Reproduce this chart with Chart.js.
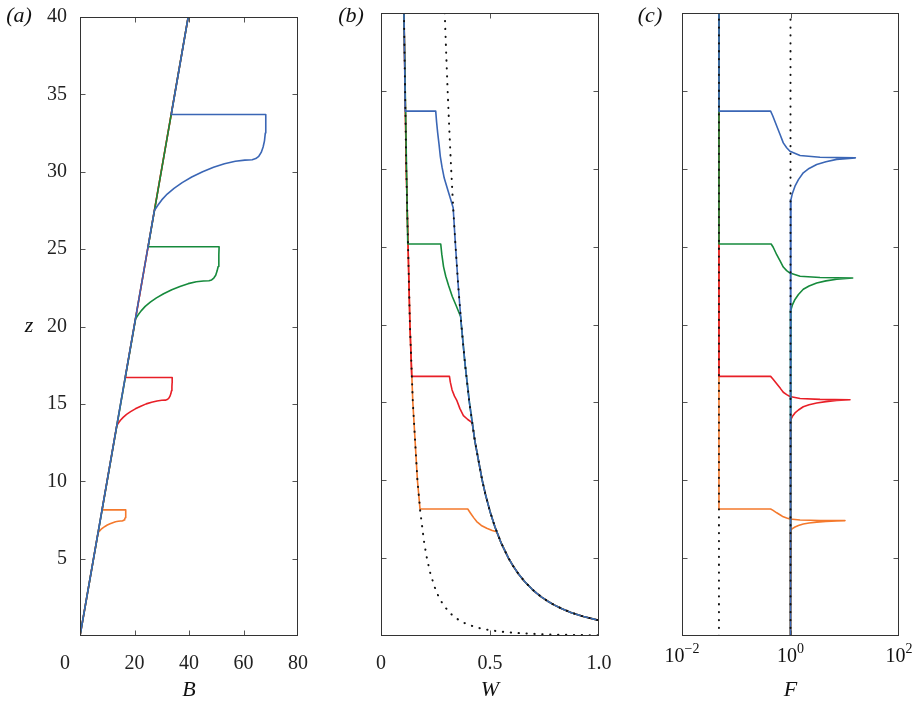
<!DOCTYPE html>
<html>
<head>
<meta charset="utf-8">
<script src="https://cdn.jsdelivr.net/npm/chart.js@4.4.1/dist/chart.umd.min.js"></script>
<style>
  html, body { margin: 0; padding: 0; background: #fff; }
  #figura { position: relative; width: 918px; height: 701px; overflow: hidden; }
  #figura canvas { position: absolute; top: 0; }
</style>
</head>
<body>
<div id="figura">
  <canvas id="panel-a" width="320" height="701" style="left:0px"></canvas>
  <canvas id="panel-b" width="300" height="701" style="left:320px"></canvas>
  <canvas id="panel-c" width="298" height="701" style="left:620px"></canvas>
</div>
<script>
// tick values
const Z_TICKS = [0, 5, 10, 15, 20, 25, 30, 35, 40];
const B_TICKS = [0, 20, 40, 60, 80];
const W_TICKS = [0, 0.5, 1];
const F_TICKS = [0.01, 1, 100];

// colours of the four runs
const AZUL = "#3a66b5", VERDE = "#168a3c", ROJO = "#e81f27", NARANJA = "#f4792c";

// (a) B against z
const aAzulB = [0, 27.3, 28.5, 30, 32, 34.5, 37.5, 41, 45, 49, 53, 57, 60.5, 63.2, 64.5, 65.6, 66.5, 67.2, 67.7, 68.0, 68.15, 68.2, 33.5, 39.7];
const aAzulZ = [0, 27.5, 27.82, 28.18, 28.56, 28.93, 29.3, 29.66, 30.0, 30.29, 30.52, 30.68, 30.75, 30.78, 30.85, 31.0, 31.25, 31.6, 32.0, 32.5, 33.0, 33.7, 33.7, 40];
const aVerdeB = [0, 20.4, 21.3, 22.43, 23.93, 25.8, 28.05, 30.68, 33.68, 36.68, 39.68, 42.68, 45.3, 47.33, 48.3, 49.1, 49.8, 50.3, 50.7, 50.9, 51.0, 51.05, 25.0, 39.7];
const aVerdeZ = [0, 20.5, 20.74, 21.01, 21.3, 21.57, 21.85, 22.12, 22.38, 22.59, 22.77, 22.89, 22.94, 22.96, 23.01, 23.13, 23.31, 23.58, 23.88, 24.25, 24.63, 25.15, 25.15, 40];
const aRojoB = [0, 13.5, 14.1, 14.84, 15.83, 17.08, 18.57, 20.31, 22.3, 24.29, 26.28, 28.26, 30.0, 31.34, 31.99, 32.54, 32.98, 33.33, 33.58, 33.73, 33.8, 33.83, 16.6, 39.7];
const aRojoZ = [0, 13.6, 13.76, 13.94, 14.13, 14.32, 14.5, 14.68, 14.85, 15.0, 15.11, 15.19, 15.23, 15.24, 15.28, 15.35, 15.48, 15.65, 15.85, 16.1, 16.35, 16.7, 16.7, 40];
const aNaranjaB = [0, 6.6, 6.9, 7.28, 7.78, 8.4, 9.15, 10.03, 11.03, 12.03, 13.03, 14.03, 14.9, 15.58, 15.9, 16.18, 16.4, 16.58, 16.7, 16.78, 16.81, 16.83, 8.1, 39.7];
const aNaranjaZ = [0, 6.65, 6.73, 6.81, 6.9, 6.99, 7.08, 7.17, 7.25, 7.32, 7.38, 7.41, 7.43, 7.44, 7.46, 7.5, 7.56, 7.64, 7.74, 7.86, 7.98, 8.15, 8.15, 40];

// (b) W against z
const bAzulW = [0.1053, 0.1114, 0.251, 0.255, 0.26, 0.266, 0.272, 0.28, 0.29, 0.303, 0.318, 0.331, 0.342, 0.3542, 0.3684, 0.3852, 0.4055, 0.4309, 0.4642, 0.4807, 0.5, 0.5228, 0.5503, 0.5848, 0.6057, 0.63, 0.6586, 0.6934, 0.7137, 0.7368, 0.7631, 0.7937, 0.8298, 0.8736, 0.9283, 1];
const bAzulZ = [40, 33.7, 33.7, 33.0, 32.3, 31.6, 30.8, 30.1, 29.4, 28.8, 28.1, 27.5, 25, 22.5, 20, 17.5, 15, 12.5, 10, 9, 8, 7, 6, 5, 4.5, 4, 3.5, 3, 2.75, 2.5, 2.25, 2, 1.75, 1.5, 1.25, 1];
const bVerdeW = [0.1053, 0.1228, 0.274, 0.279, 0.287, 0.297, 0.31, 0.327, 0.345, 0.358, 0.3655, 0.3684, 0.3852, 0.4055, 0.4309, 0.4642, 0.4807, 0.5, 0.5228, 0.5503, 0.5848, 0.6057, 0.63, 0.6586, 0.6934, 0.7137, 0.7368, 0.7631, 0.7937, 0.8298, 0.8736, 0.9283, 1];
const bVerdeZ = [40, 25.17, 25.17, 24.5, 23.7, 23.1, 22.5, 21.8, 21.2, 20.75, 20.5, 20, 17.5, 15, 12.5, 10, 9, 8, 7, 6, 5, 4.5, 4, 3.5, 3, 2.75, 2.5, 2.25, 2, 1.75, 1.5, 1.25, 1];
const bRojoW = [0.1053, 0.1159, 0.1326, 0.1409, 0.314, 0.318, 0.326, 0.337, 0.347, 0.362, 0.378, 0.398, 0.418, 0.4309, 0.4642, 0.4807, 0.5, 0.5228, 0.5503, 0.5848, 0.6057, 0.63, 0.6586, 0.6934, 0.7137, 0.7368, 0.7631, 0.7937, 0.8298, 0.8736, 0.9283, 1];
const bRojoZ = [40, 30, 20, 16.67, 16.67, 16.3, 15.8, 15.4, 15.15, 14.6, 14.15, 13.9, 13.7, 12.5, 10, 9, 8, 7, 6, 5, 4.5, 4, 3.5, 3, 2.75, 2.5, 2.25, 2, 1.75, 1.5, 1.25, 1];
const bNaranjaW = [0.1053, 0.1159, 0.1326, 0.146, 0.1671, 0.179, 0.398, 0.41, 0.425, 0.439, 0.46, 0.485, 0.51, 0.5303, 0.5503, 0.5848, 0.6057, 0.63, 0.6586, 0.6934, 0.7137, 0.7368, 0.7631, 0.7937, 0.8298, 0.8736, 0.9283, 1];
const bNaranjaZ = [40, 30, 20, 15, 10, 8.15, 8.15, 7.9, 7.6, 7.35, 7.1, 6.92, 6.78, 6.7, 6, 5, 4.5, 4, 3.5, 3, 2.75, 2.5, 2.25, 2, 1.75, 1.5, 1.25, 1];
// dotted reference curves in (b)
const bRefAltaW = [0.2924, 0.2988, 0.3057, 0.3134, 0.3218, 0.3311, 0.342, 0.3542, 0.3684, 0.3852, 0.4055, 0.4309, 0.4642, 0.4807, 0.5, 0.5228, 0.5503, 0.5848, 0.6057, 0.63, 0.6586, 0.6934, 0.7137, 0.7368, 0.7631, 0.7937, 0.8298, 0.8736, 0.9283, 1];
const bRefAltaZ = [40, 37.5, 35, 32.5, 30, 27.5, 25, 22.5, 20, 17.5, 15, 12.5, 10, 9, 8, 7, 6, 5, 4.5, 4, 3.5, 3, 2.75, 2.5, 2.25, 2, 1.75, 1.5, 1.25, 1];
const bRefBajaW = [0.1053, 0.1159, 0.1326, 0.146, 0.1671, 0.18, 0.1981, 0.2105, 0.2268, 0.2496, 0.2653, 0.2857, 0.3145, 0.3342, 0.36, 0.3878, 0.4268, 0.4536, 0.4886, 0.5377, 0.5715, 0.6156, 0.6775, 0.7756, 0.8536, 0.9196, 1];
const bRefBajaZ = [40, 30, 20, 15, 10, 8, 6, 5, 4, 3, 2.5, 2, 1.5, 1.25, 1, 0.8, 0.6, 0.5, 0.4, 0.3, 0.25, 0.2, 0.15, 0.1, 0.075, 0.06, 0.0467];

// (c) F against z
const cAzulF = [0.048, 0.048, 0.43, 0.47, 0.557, 0.65, 0.736, 0.85, 0.978, 1.5, 3.5, 15.7, 7.1, 4.5, 3.04, 2.2, 1.72, 1.4, 1.21, 1.08, 1.02, 1.0, 1.0];
const cAzulZ = [40, 33.7, 33.7, 33.4, 32.74, 32.15, 31.66, 31.35, 31.12, 30.85, 30.74, 30.7, 30.6, 30.45, 30.27, 30.02, 29.74, 29.3, 28.88, 28.4, 28.02, 27.55, 0];
const cVerdeF = [0.048, 0.048, 0.44, 0.48, 0.557, 0.65, 0.736, 0.85, 0.978, 1.5, 3.5, 14, 7.1, 4.5, 3.04, 2.2, 1.72, 1.4, 1.21, 1.08, 1.02, 1.0, 1.0];
const cVerdeZ = [40, 25.17, 25.17, 24.96, 24.48, 24.05, 23.69, 23.46, 23.3, 23.1, 23.02, 22.99, 22.91, 22.8, 22.66, 22.47, 22.26, 21.93, 21.61, 21.24, 20.95, 20.6, 0];
const cRojoF = [0.048, 0.048, 0.43, 0.47, 0.557, 0.65, 0.736, 0.85, 0.978, 1.5, 3.5, 12.5, 7.1, 4.5, 3.04, 2.2, 1.72, 1.4, 1.21, 1.08, 1.02, 1.0, 1.0];
const cRojoZ = [40, 16.67, 16.67, 16.52, 16.19, 15.9, 15.65, 15.5, 15.38, 15.25, 15.19, 15.17, 15.12, 15.05, 14.96, 14.85, 14.72, 14.51, 14.32, 14.09, 13.91, 13.7, 0];
const cNaranjaF = [0.048, 0.048, 0.43, 0.47, 0.557, 0.65, 0.736, 0.85, 0.978, 1.5, 3.5, 10.1, 7.1, 4.5, 3.04, 2.2, 1.72, 1.4, 1.21, 1.08, 1.02, 1.0, 1.0];
const cNaranjaZ = [40, 8.15, 8.15, 8.08, 7.91, 7.77, 7.65, 7.57, 7.51, 7.45, 7.42, 7.41, 7.39, 7.35, 7.31, 7.26, 7.19, 7.09, 7.0, 6.89, 6.81, 6.7, 0];
// dotted verticals in (c)
const cRefIzqF = [0.048, 0.048];
const cRefDerF = [1, 1];
const cRefZ = [0, 40];

const SERIF = "'Liberation Serif', 'Times New Roman', serif";

// one line from two arrays
const serie = (xs, ys, color, extra = {}) => ({
    data: xs.map((x, i) => ({ x, y: ys[i] })),
    borderColor: color, backgroundColor: color,
    borderWidth: 1.6, pointRadius: 0, showLine: true, tension: 0, fill: false,
    borderJoinStyle: "round",
    ...extra,
});
const punteada = (xs, ys) => serie(xs, ys, "#111", { borderWidth: 2, borderDash: [0.3, 7.6], borderCapStyle: "round" });

// frame, inward ticks and the free texts
const decoracion = {
    id: "decoracion",
    afterDraw(chart, args, opts) {
        const { ctx, chartArea: a, scales } = chart;
        const L = Math.round(a.left) + 0.5, R = Math.round(a.right) - 0.5;
        const T = Math.round(a.top) + 0.5, B = Math.round(a.bottom) - 0.5;
        ctx.save();
        ctx.strokeStyle = "#555";
        ctx.lineWidth = 1;
        ctx.beginPath();
        scales.x.ticks.forEach(t => {
            const px = Math.round(scales.x.getPixelForValue(t.value)) + 0.5;
            if (px < L + 2 || px > R - 2) return;
            ctx.moveTo(px, B); ctx.lineTo(px, B - 5);
            ctx.moveTo(px, T); ctx.lineTo(px, T + 5);
        });
        scales.y.ticks.forEach(t => {
            const py = Math.round(scales.y.getPixelForValue(t.value)) + 0.5;
            if (py < T + 2 || py > B - 2) return;
            ctx.moveTo(L, py); ctx.lineTo(L + 5, py);
            ctx.moveTo(R, py); ctx.lineTo(R - 5, py);
        });
        ctx.stroke();
        ctx.strokeStyle = "#333";
        ctx.strokeRect(L, T, R - L, B - T);

        ctx.fillStyle = "#111";
        ctx.textBaseline = "middle";
        ctx.textAlign = "center";
        ctx.font = `italic 22px ${SERIF}`;
        ctx.fillText(opts.panel, opts.panelX, 16);
        ctx.fillText(opts.titulo, (a.left + a.right) / 2, 690);
        if (opts.z) ctx.fillText("z", 29, (a.top + a.bottom) / 2);

        // 10^n labels of the log axis
        if (opts.log) {
            F_TICKS.forEach(v => {
                const px = scales.x.getPixelForValue(v);
                const exp = String(Math.round(Math.log10(v))).replace("-", "\u2212");
                ctx.font = `20px ${SERIF}`;
                const wBase = ctx.measureText("10").width;
                ctx.font = `14px ${SERIF}`;
                const wExp = ctx.measureText(exp).width;
                const x0 = px - (wBase + wExp) / 2;
                ctx.textAlign = "left";
                ctx.font = `20px ${SERIF}`;
                ctx.fillText("10", x0, 657);
                ctx.font = `14px ${SERIF}`;
                ctx.fillText(exp, x0 + wBase, 649);
            });
        }
        ctx.restore();
    },
};

const ejeZ = (conEtiquetas, ancho) => ({
    type: "linear", min: 0, max: 40,
    afterBuildTicks: s => { s.ticks = Z_TICKS.map(v => ({ value: v })); },
    afterFit: s => { s.width = ancho; },
    grid: { display: false }, border: { display: false },
    ticks: {
        display: conEtiquetas, padding: 5, color: "#222",
        font: { family: SERIF, size: 20 },
        callback: v => (v === 0 ? "" : String(v)),
    },
});

const ejeX = (extra, etiqueta) => ({
    ...extra,
    afterFit: s => { s.height = 65; },
    grid: { display: false }, border: { display: false },
    ticks: {
        padding: 8, color: "#222", autoSkip: false, maxRotation: 0, minRotation: 0,
        font: { family: SERIF, size: 20 },
        callback: etiqueta,
    },
});

const crearPanel = (id, datasets, x, y, padding, deco) => new Chart(document.getElementById(id), {
    type: "scatter",
    data: { datasets },
    options: {
        responsive: false, animation: false, events: [],
        layout: { padding },
        plugins: { legend: { display: false }, tooltip: { enabled: false }, decoracion: deco },
        scales: { x, y },
    },
    plugins: [decoracion],
});

// panel (a)
crearPanel("panel-a", [
    serie(aAzulB, aAzulZ, AZUL),
    serie(aVerdeB, aVerdeZ, VERDE),
    serie(aRojoB, aRojoZ, ROJO),
    serie(aNaranjaB, aNaranjaZ, NARANJA),
], ejeX({
    type: "linear", min: 0, max: 80,
    afterBuildTicks: s => { s.ticks = B_TICKS.map(v => ({ value: v })); },
}, v => (v === 0 ? "0      " : String(v))),
ejeZ(true, 80), { top: 13, right: 22, left: 0, bottom: 0 },
{ panel: "(a)", panelX: 19, titulo: "B", z: true });

// panel (b)
crearPanel("panel-b", [
    punteada(bRefAltaW, bRefAltaZ),
    punteada(bRefBajaW, bRefBajaZ),
    serie(bAzulW, bAzulZ, AZUL),
    serie(bVerdeW, bVerdeZ, VERDE),
    serie(bRojoW, bRojoZ, ROJO),
    serie(bNaranjaW, bNaranjaZ, NARANJA),
], ejeX({
    type: "linear", min: 0, max: 1,
    afterBuildTicks: s => { s.ticks = W_TICKS.map(v => ({ value: v })); },
}, v => (v === 0 ? "0" : v.toFixed(1))),
ejeZ(false, 61), { top: 13, right: 21, left: 0, bottom: 0 },
{ panel: "(b)", panelX: 31, titulo: "W" });

// panel (c)
crearPanel("panel-c", [
    punteada(cRefIzqF, cRefZ),
    punteada(cRefDerF, cRefZ),
    serie(cAzulF, cAzulZ, AZUL),
    serie(cVerdeF, cVerdeZ, VERDE),
    serie(cRojoF, cRojoZ, ROJO),
    serie(cNaranjaF, cNaranjaZ, NARANJA),
], ejeX({
    type: "logarithmic", min: 0.01, max: 100,
    afterBuildTicks: s => { s.ticks = F_TICKS.map(v => ({ value: v })); },
}, () => ""),
ejeZ(false, 62), { top: 13, right: 19, left: 0, bottom: 0 },
{ panel: "(c)", panelX: 30, titulo: "F", log: true });
</script>
</body>
</html>
